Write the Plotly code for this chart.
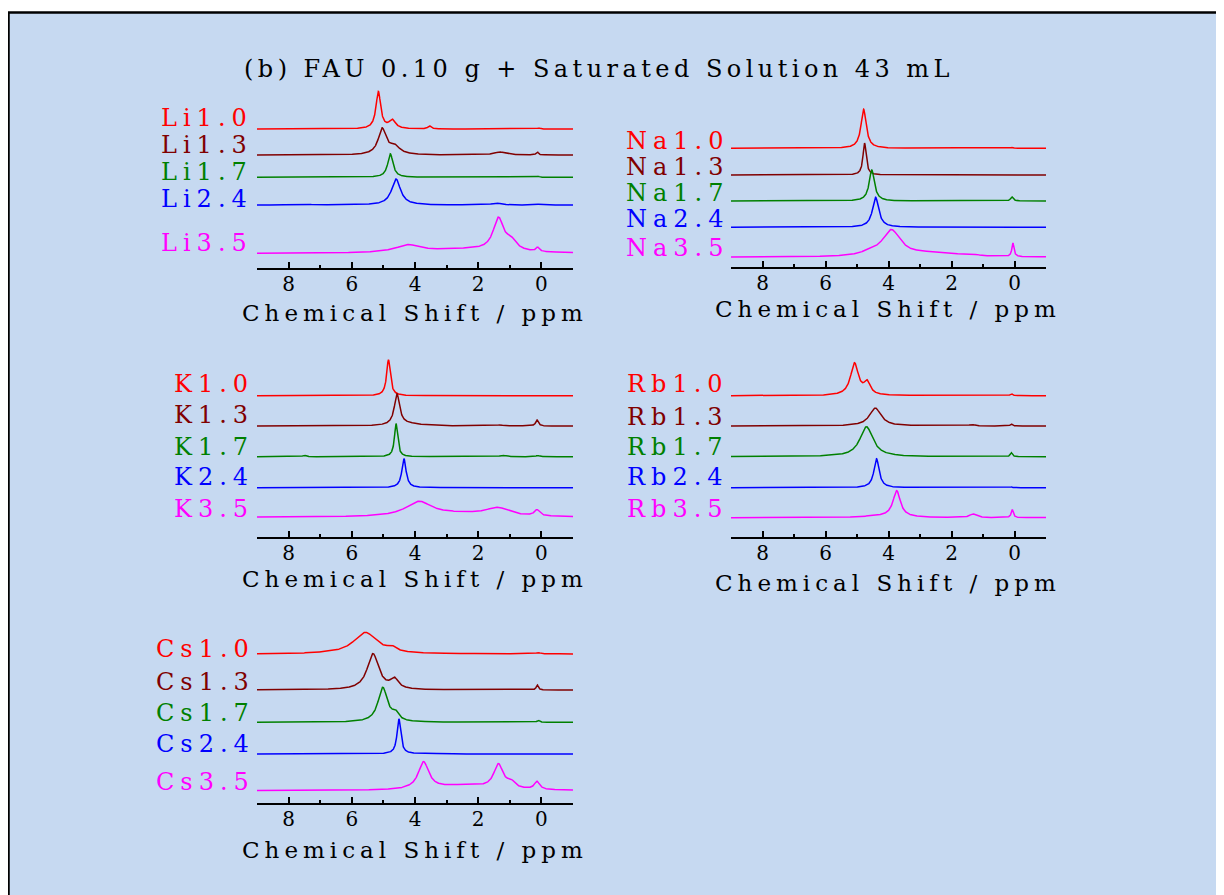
import numpy as np
import plotly.graph_objects as go

# the page body has an 8 px margin, so the figure starts at (8, 8) of the window
OX, OY = 8, 8
W, H = 1224 - OX, 895 - OY

# ---------------- data ----------------
title_text = "(b) FAU 0.10 g + Saturated Solution 43 mL"
axis_title = "Chemical Shift / ppm"
ratios = ["1.0", "1.3", "1.7", "2.4", "3.5"]
colors = ["#FF0000", "#800000", "#008000", "#0000FF", "#FF00FF"]
tick_vals = [8, 6, 4, 2, 0]
tick_text = ["8", "6", "4", "2", "0"]
minor_vals = [9, 7, 5, 3, 1, -1]
ppm_range = [9, -1]

# peak lists: (shift ppm, height, half width ppm); offsets = baseline level of each trace
li_offsets = [139, 113, 90.7, 63, 14.5]
li_peaks = [
    [(5.16, 37, 0.09), (4.72, 8.5, 0.12), (3.54, 3, 0.06), (0.08, 1, 0.05)],
    [(5.04, 25.5, 0.15), (4.65, 8, 0.2), (1.33, 3, 0.2), (0.13, 3, 0.04)],
    [(4.78, 23.5, 0.1), (0.1, 1, 0.04)],
    [(4.6, 26, 0.17), (1.43, 2, 0.15), (7.6, 0.8, 0.3), (0.1, 0.8, 0.04)],
    [(4.23, 7, 0.45), (1.36, 32, 0.2), (0.96, 9, 0.2), (0.12, 4, 0.06), (2.5, 4, 1.5)],
]
na_offsets = [118.7, 92, 66, 39.7, 9.7]
na_peaks = [
    [(4.79, 39, 0.1), (0.08, 0.8, 0.04)],
    [(4.76, 32, 0.06), (0.08, 0.6, 0.04)],
    [(4.53, 31, 0.1), (0.08, 4, 0.05)],
    [(4.41, 30, 0.12), (0.08, 0.6, 0.04)],
    [(3.91, 26, 0.35), (4.6, 3, 0.3), (0.05, 13.5, 0.04), (1.2, 1, 0.1), (2.5, 4, 1.0)],
]
k_offsets = [141.3, 111, 80.3, 49.3, 19.7]
k_peaks = [
    [(4.84, 36, 0.07), (0.1, 0.7, 0.04)],
    [(4.57, 31, 0.1), (0.14, 6, 0.05), (1.3, 1, 0.1), (4.2, 2, 0.5)],
    [(4.6, 33, 0.06), (7.5, 1.5, 0.06), (1.23, 1.5, 0.1), (0.12, 1.2, 0.06)],
    [(4.35, 29, 0.08), (0.1, 0.5, 0.04)],
    [(3.88, 14.5, 0.5), (1.38, 8, 0.45), (0.14, 6, 0.1), (2.6, 3, 1.2)],
]
rb_offsets = [141.3, 111, 80.3, 49.3, 19.3]
rb_peaks = [
    [(5.08, 32, 0.15), (4.68, 12, 0.12), (0.1, 2, 0.04)],
    [(4.42, 18, 0.22), (1.35, 1.5, 0.1), (0.1, 2, 0.04)],
    [(4.7, 30, 0.25), (0.1, 4, 0.04)],
    [(4.38, 29, 0.1), (0.1, 0.8, 0.04)],
    [(3.74, 26, 0.14), (1.32, 3.5, 0.12), (0.07, 8, 0.04), (4.2, 1.5, 0.8)],
]
cs_offsets = [149, 113, 80.7, 49, 12.3]
cs_peaks = [
    [(5.57, 21.5, 0.45), (4.73, 4, 0.15), (1.3, 0.8, 0.1), (0.1, 1.2, 0.08)],
    [(5.33, 36, 0.22), (4.65, 9.5, 0.15), (0.13, 5, 0.04)],
    [(5.02, 34.5, 0.18), (4.62, 7, 0.12), (0.1, 2, 0.05)],
    [(4.51, 35, 0.07), (3.7, 0.8, 0.3), (0.1, 0.6, 0.04)],
    [(3.73, 27, 0.2), (1.36, 24, 0.18), (0.96, 6, 0.15), (0.14, 8, 0.1), (2.5, 5, 1.0)],
]

# ---------------- layout geometry (window pixels) ----------------
panels = [
    dict(el="Li", offs=li_offsets, peaks=li_peaks, x0=257, x1=573, axis=268, top=80,
         lab_x=249, lab_y=[118.3, 145, 171.7, 199, 242.7], tt_y=313),
    dict(el="Na", offs=na_offsets, peaks=na_peaks, x0=731, x1=1046, axis=267, top=80,
         lab_x=725, lab_y=[140.7, 166.7, 193.3, 219, 247.7], tt_y=309),
    dict(el="K", offs=k_offsets, peaks=k_peaks, x0=257, x1=573, axis=537, top=345,
         lab_x=250, lab_y=[384.3, 415, 446.7, 476.7, 509], tt_y=579),
    dict(el="Rb", offs=rb_offsets, peaks=rb_peaks, x0=731, x1=1046, axis=537, top=345,
         lab_x=725, lab_y=[384.3, 416.7, 446.7, 476.7, 509], tt_y=583),
    dict(el="Cs", offs=cs_offsets, peaks=cs_peaks, x0=257, x1=573, axis=803, top=610,
         lab_x=251, lab_y=[649.3, 681.7, 713.3, 744, 781.7], tt_y=850),
]

FONT = "DejaVu Serif"
LAB_SIZE, LAB_LS = 24, 6
TT_SIZE, TT_LS = 23, 5
TITLE_SIZE, TITLE_LS = 24, 4.45
TICK_SIZE = 20


def px(x):
    return (x - OX) / W


def py(y):
    return 1 - (y - OY) / H


def spaced(t, ls):
    return f'<span style="letter-spacing:{ls}px">{t}</span>'


ppm = np.linspace(9, -1, 2001)

fig = go.Figure()
annotations = []
for i, p in enumerate(panels):
    n = "" if i == 0 else str(i + 1)
    span = p["axis"] - p["top"]
    for j in range(5):
        y = np.full_like(ppm, p["offs"][j])
        for c, h, w in p["peaks"][j]:
            y = y + h * w * w / ((ppm - c) ** 2 + w * w)
        fig.add_trace(go.Scatter(x=ppm, y=y, mode="lines", xaxis="x" + n, yaxis="y" + n,
                                 line=dict(color=colors[j], width=1.5),
                                 hoverinfo="skip", showlegend=False))
        annotations.append(dict(text=spaced(p["el"] + ratios[j], LAB_LS), xref="paper", yref="paper",
                                x=px(p["lab_x"] + LAB_LS), y=py(p["lab_y"][j]),
                                xanchor="right", yanchor="middle", showarrow=False,
                                font=dict(family=FONT, size=LAB_SIZE, color=colors[j])))
    annotations.append(dict(text=spaced(axis_title, TT_LS), xref="paper", yref="paper",
                            x=px((p["x0"] + p["x1"]) / 2 - 3 + TT_LS / 2), y=py(p["tt_y"]),
                            xanchor="center", yanchor="middle", showarrow=False,
                            font=dict(family=FONT, size=TT_SIZE, color="black")))
    xa = dict(domain=[px(p["x0"]), px(p["x1"])], range=ppm_range, anchor="y" + n,
              showline=True, linecolor="black", linewidth=2, mirror=False,
              ticks="inside", ticklen=6, tickwidth=1.5, tickcolor="black",
              tickvals=tick_vals, ticktext=tick_text, ticklabelstandoff=-3,
              tickfont=dict(family=FONT, size=TICK_SIZE, color="black"),
              minor=dict(tickvals=minor_vals, ticks="inside", ticklen=3.5, tickwidth=1.5,
                         tickcolor="black"),
              showgrid=False, zeroline=False, fixedrange=True)
    ya = dict(domain=[py(p["axis"]), py(p["top"])], range=[0, span], anchor="x" + n,
              visible=False, showgrid=False, zeroline=False, fixedrange=True)
    fig.layout["xaxis" + n] = xa
    fig.layout["yaxis" + n] = ya

annotations.append(dict(text=spaced(title_text, TITLE_LS), xref="paper", yref="paper",
                        x=px(596.5 + TITLE_LS / 2), y=py(69.5), xanchor="center", yanchor="middle",
                        showarrow=False, font=dict(family=FONT, size=TITLE_SIZE, color="black")))

fig.update_layout(
    width=W, height=H, margin=dict(l=0, r=0, t=0, b=0),
    paper_bgcolor="white", plot_bgcolor="rgba(0,0,0,0)",
    annotations=annotations,
    shapes=[dict(type="rect", xref="paper", yref="paper", x0=px(8.5), y0=py(910), x1=px(1240), y1=py(12.5),
                 fillcolor="#C6D9F1", line=dict(color="black", width=2.5), layer="below")],
)

fig.write_html("out.html")
